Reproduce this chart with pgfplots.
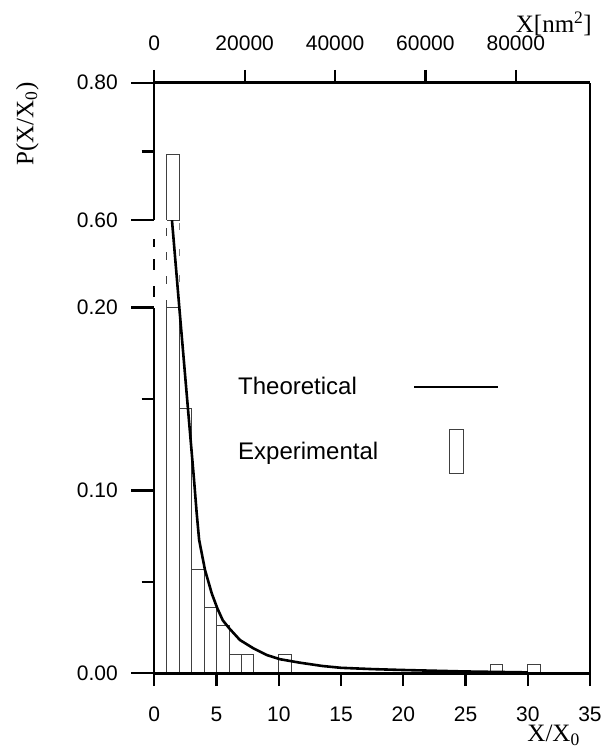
\documentclass[border=0pt]{standalone}
\usepackage{fontspec}
\setmainfont{Liberation Sans}
\newfontfamily\timesf{Liberation Serif}
\usepackage{pgfplots}
\pgfplotsset{compat=1.18}
\begin{document}
\begin{tikzpicture}
\pgfplotsset{every axis/.append style={scale only axis, width=435.7pt, height=590.6pt, at={(0,0)}, anchor=south west}}
% ---------- main axis: data and y ticks ----------
\begin{axis}[
  xmin=0, xmax=35, ymin=0, ymax=0.323,
  clip=false,
  axis line style={draw=none},
  xtick=\empty,
  ytick={0,0.1,0.2,0.2478,0.323},
  yticklabels={0.00,0.10,0.20,0.60,0.80},
  minor ytick={0.05,0.15,0.2854},
  ytick pos=left,
  tick align=outside,
  major tick length=23pt,
  minor tick length=12.7pt,
  tick style={black, line width=2.2pt},
  yticklabel style={font=\fontsize{21}{25}\selectfont, xshift=-10pt},
  ylabel={\timesf P(X/X\textsubscript{0})},
  ylabel style={at={(axis description cs:-0.2915,0.93)}, anchor=center, font=\fontsize{25}{30}\selectfont},
  y filter/.expression={y<=0.2 ? y : (y>=0.6 ? 0.2478+(y-0.6)*0.376 : 0.2+(y-0.2)*0.1195)},
  legend plot pos=right, reverse legend, legend cell align=left,
  legend style={draw=none, fill=none, at={(axis description cs:0.192,0.5017)}, anchor=north west,
    inner sep=0pt, row sep=33pt, column sep=35pt, nodes={inner sep=0pt}, font=\fontsize{24}{28}\selectfont},
]
% histogram (experimental)
\addplot[ybar interval, draw=black!75, fill=none, line width=0.8pt,
  legend image code/.code={\draw[black!75, line width=0.8pt] (-7pt,-22pt) rectangle (7pt,22pt);}]
  coordinates {(2,0.145)(3,0.0566)(4,0.036)(5,0.026)(6,0.0105)(7,0.0105)(8,0)(10,0.0105)(11,0)(27,0.005)(28,0)(30,0.005)(31,0)};
\addlegendentry{Experimental}
% broken first bar
\addplot[forget plot, draw=black!75, line width=0.8pt] coordinates {(1,0)(1,0.2)(2,0.2)(2,0)};
\addplot[forget plot, draw=black!75, line width=0.8pt] coordinates {(1,0.6)(1,0.696)(2,0.696)(2,0.6)(1,0.6)};
\addplot[forget plot, draw=black!75, line width=0.8pt, dash pattern=on 8pt off 16pt] coordinates {(1,0.2)(1,0.6)};
\addplot[forget plot, draw=black!50, line width=0.7pt, dash pattern=on 7pt off 19pt] coordinates {(2,0.2)(2,0.6)};
% theoretical curve
\addplot[black, line width=2.6pt,
  legend image code/.code={\draw[black, line width=2pt] (-42pt,0pt) -- (42pt,0pt);}]
  coordinates {(1.42,0.60)(2.01,0.20)(2.70,0.145)(3.19,0.106)(3.40,0.088)(3.60,0.073)(4.07,0.0566)(4.61,0.0438)(5.06,0.0356)(5.5,0.029)(6.02,0.0246)(6.88,0.0182)(7.95,0.0137)(9.03,0.0100)(10.1,0.0077)(11.7,0.0058)(13.5,0.0040)(15.0,0.0030)(17.5,0.0023)(20,0.0018)(25,0.0010)(30,0.0005)};
\addlegendentry{Theoretical}
% vertical axis lines (left one broken)
\draw[line width=2.4pt] (rel axis cs:0,0) -- (rel axis cs:0,0.6192);
\draw[line width=2.4pt] (rel axis cs:0,0.7672) -- (rel axis cs:0,1);
\draw[line width=2.4pt, dash pattern=on 0pt off 19pt on 8pt off 12pt on 11pt off 16pt on 11pt off 10pt] (rel axis cs:0,0.7672) -- (rel axis cs:0,0.6192);
\draw[line width=2.4pt] (rel axis cs:1,0) -- (rel axis cs:1,1);
\end{axis}
% ---------- bottom axis: X/X0 ----------
\begin{axis}[
  xmin=0, xmax=35, ymin=0, ymax=1,
  axis x line*=bottom, axis y line=none,
  axis line style={line width=2.4pt},
  xtick={0,5,10,15,20,25,30,35},
  xticklabels={0,5,10,15,20,25,30,35},
  tick align=outside, major tick length=12.7pt,
  tick style={black, line width=2.2pt},
  xticklabel style={font=\fontsize{21}{25}\selectfont, anchor=base, yshift=-35pt},
  xlabel={\timesf X/X\textsubscript{0}},
  xlabel style={at={(axis description cs:1,0)}, anchor=base east, xshift=-10pt, yshift=-68.4pt, inner sep=0pt, font=\fontsize{25}{30}\selectfont},
]
\end{axis}
% ---------- top axis: X[nm^2] ----------
\begin{axis}[
  xmin=0, xmax=96425, ymin=0, ymax=1,
  axis x line*=top, axis y line=none,
  axis line style={line width=2.4pt},
  scaled x ticks=false,
  xtick={0,20000,40000,60000,80000},
  xticklabels={0,20000,40000,60000,80000},
  tick align=outside, major tick length=12.7pt,
  tick style={black, line width=2.2pt},
  xticklabel style={font=\fontsize{21}{25}\selectfont, anchor=base, yshift=19pt},
  xlabel={\timesf X[nm\textsuperscript{2}]},
  xlabel style={at={(axis description cs:1,1)}, anchor=base east, xshift=2pt, yshift=49.7pt, inner sep=0pt, font=\fontsize{25}{30}\selectfont},
]
\end{axis}
\pgfresetboundingbox
\path (-154.3pt,-80.7pt) rectangle (451.7pt,673.3pt);
\end{tikzpicture}
\end{document}
